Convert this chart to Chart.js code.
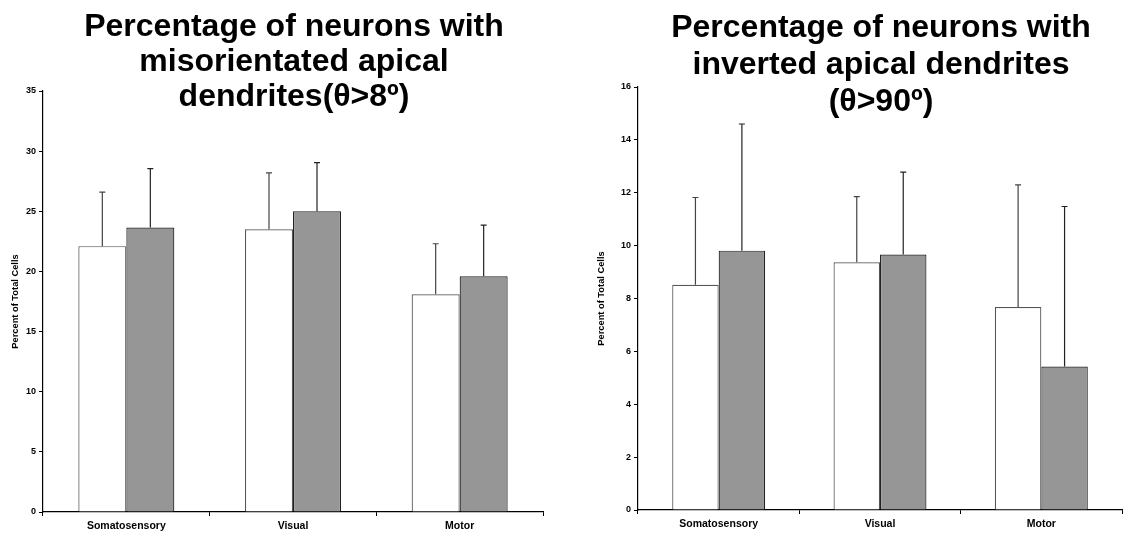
<!DOCTYPE html>
<html>
<head>
<meta charset="utf-8">
<script src="https://cdn.jsdelivr.net/npm/chart.js@4/dist/chart.umd.min.js"></script>
<style>
  body { margin: 0; background: #fff; }
  .box { position: absolute; top: 0; height: 535px; }
</style>
</head>
<body>
<div class="box" style="left:0;width:560px"><canvas id="left"></canvas></div>
<div class="box" style="left:565px;width:573px"><canvas id="right"></canvas></div>
<script>
// categories shared by both panels
const regions = ['Somatosensory', 'Visual', 'Motor'];

// panel 1: misoriented apical dendrites (theta > 8)
const misorientTitle = ['Percentage of neurons with', 'misorientated apical', 'dendrites(\u03b8>8\u00ba)'];
const misorientWhite = [22.1, 23.5, 18.1];
const misorientWhiteErr = [4.5, 4.7, 4.2];
const misorientGray = [23.65, 25.0, 19.6];
const misorientGrayErr = [4.9, 4.05, 4.25];

// panel 2: inverted apical dendrites (theta > 90)
const invertedTitle = ['Percentage of neurons with', 'inverted apical dendrites', '(\u03b8>90\u00ba)'];
const invertedWhite = [8.52, 9.37, 7.68];
const invertedWhiteErr = [3.3, 2.48, 4.62];
const invertedGray = [9.81, 9.66, 5.43];
const invertedGrayErr = [4.79, 3.12, 6.05];

const yLabel = 'Percent of Total Cells';
const FONT = 'Arial, "Liberation Sans", sans-serif';

// error bars, upward only, with a small cap
const errorBars = {
  id: 'errorBars',
  afterDatasetsDraw(chart) {
    const ctx = chart.ctx;
    const y = chart.scales.y;
    chart.data.datasets.forEach((ds, i) => {
      const meta = chart.getDatasetMeta(i);
      meta.data.forEach((bar, j) => {
        const top = y.getPixelForValue(ds.data[j] + ds.errors[j]);
        ctx.save();
        ctx.strokeStyle = ds.errColor;
        ctx.lineWidth = 1.2;
        ctx.beginPath();
        ctx.moveTo(bar.x, bar.y);
        ctx.lineTo(bar.x, top);
        ctx.moveTo(bar.x - 3, top);
        ctx.lineTo(bar.x + 3, top);
        ctx.stroke();
        ctx.restore();
      });
    });
  }
};

// multi-line title drawn over the plot, centred on the chart area
const overTitle = {
  id: 'overTitle',
  afterDraw(chart, args, opts) {
    const ctx = chart.ctx;
    const cx = (chart.chartArea.left + chart.chartArea.right) / 2 + 1;
    ctx.save();
    ctx.font = 'bold 32px ' + FONT;
    ctx.fillStyle = '#000';
    ctx.textAlign = 'center';
    ctx.textBaseline = 'alphabetic';
    opts.lines.forEach((t, k) => ctx.fillText(t, cx, opts.first + k * opts.step));
    ctx.restore();
  }
};

function makeChart(id, titleLines, white, whiteErr, gray, grayErr, yMax, yStep, cfg) {
  new Chart(document.getElementById(id), {
    type: 'bar',
    data: {
      labels: regions,
      datasets: [
        { label: 'Series 1', data: white, errors: whiteErr, errColor: '#444',
          backgroundColor: '#ffffff', borderColor: '#555', borderWidth: 1.2 },
        { label: 'Series 2', data: gray, errors: grayErr, errColor: '#222',
          backgroundColor: '#969696', borderColor: '#222', borderWidth: 1.2 }
      ]
    },
    options: {
      responsive: true,
      maintainAspectRatio: false,
      animation: false,
      layout: { padding: { top: cfg.top, right: cfg.right, left: 0, bottom: 0 } },
      datasets: { bar: { categoryPercentage: 0.576, barPercentage: 1 } },
      plugins: {
        legend: { display: false },
        tooltip: { enabled: false },
        overTitle: { lines: titleLines, first: cfg.titleY, step: cfg.titleStep }
      },
      scales: {
        x: {
          grid: { display: true, drawOnChartArea: false, offset: true, tickLength: 4, color: '#000' },
          border: { color: '#000', width: 1.2 },
          ticks: { color: '#000', padding: 4, font: { family: FONT, size: 10.5, weight: 'bold' } },
          afterFit(s) { s.height = cfg.xH; }
        },
        y: {
          min: 0, max: yMax,
          grid: { display: true, drawOnChartArea: false, tickLength: 4, color: '#000' },
          border: { color: '#000', width: 1.2 },
          ticks: { stepSize: yStep, color: '#000', padding: 3, font: { family: FONT, size: 9, weight: 'bold' } },
          title: { display: true, text: yLabel, color: '#000', padding: { top: cfg.yTitlePad, bottom: 0 },
                   font: { family: FONT, size: 9.3, weight: 'bold' } },
          afterFit(s) { s.width = cfg.yW; }
        }
      }
    },
    plugins: [errorBars, overTitle]
  });
}

makeChart('left', misorientTitle, misorientWhite, misorientWhiteErr, misorientGray, misorientGrayErr, 35, 5,
  { top: 91, right: 17, xH: 23, yW: 43, yTitlePad: 10, titleY: 36, titleStep: 35 });
makeChart('right', invertedTitle, invertedWhite, invertedWhiteErr, invertedGray, invertedGrayErr, 16, 2,
  { top: 87, right: 16, xH: 25, yW: 73, yTitlePad: 31, titleY: 37, titleStep: 37 });
</script>
</body>
</html>
